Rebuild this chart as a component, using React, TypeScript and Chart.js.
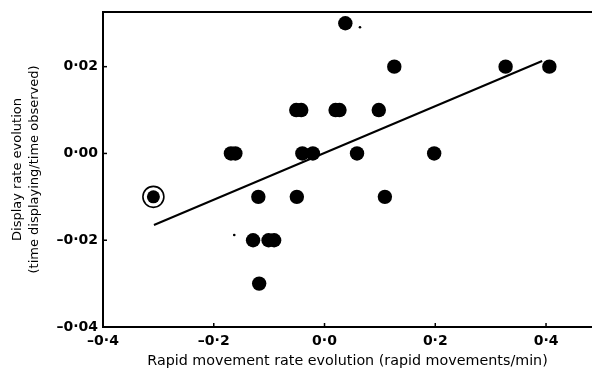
import React, { useEffect, useRef } from "react";
import { Chart, registerables } from "chart.js";

Chart.register(...registerables);

// Observed data points (x: rapid movement rate evolution, y: display rate evolution)
const pointX = [
  0.0376,
  0.126, 0.327, 0.406,
  -0.051, -0.042, 0.02, 0.027, 0.098,
  -0.169, -0.161, -0.04, -0.021, 0.0587, 0.198,
  -0.1195, -0.05, 0.109,
  -0.129, -0.101, -0.091,
  -0.118,
];
const pointY = [
  0.03,
  0.02, 0.02, 0.02,
  0.01, 0.01, 0.01, 0.01, 0.01,
  0.0, 0.0, 0.0, 0.0, 0.0, 0.0,
  -0.01, -0.01, -0.01,
  -0.02, -0.02, -0.02,
  -0.03,
];
// circled (outlier) point
const highlightX = [-0.309];
const highlightY = [-0.01];
// regression line end points
const fitX = [-0.308, 0.393];
const fitY = [-0.0165, 0.0213];
// small specks visible on the figure
const speckX = [0.064, -0.163];
const speckY = [0.0291, -0.0188];

const xTickValues = [-0.4, -0.2, 0, 0.2, 0.4];
const xTickLabels = ["–0·4", "–0·2", "0·0", "0·2", "0·4"];
const yTickValues = [0.02, 0, -0.02, -0.04];
const yTickLabels = ["0·02", "0·00", "–0·02", "–0·04"];

const xTitle = "Rapid movement rate evolution (rapid movements/min)";
const yTitle = ["Display rate evolution", "(time displaying/time observed)"];

const FONT = "'DejaVu Sans', sans-serif";

const toPts = (xs: number[], ys: number[]) => xs.map((x, i) => ({ x, y: ys[i] }));

const innerTicks = {
  id: "innerTicks",
  afterDraw(chart: any) {
    const { ctx, chartArea, scales } = chart;
    ctx.save();
    ctx.strokeStyle = "#000";
    ctx.lineWidth = 1.5;
    scales.x.ticks.forEach((t: any) => {
      const px = scales.x.getPixelForValue(t.value);
      ctx.beginPath();
      ctx.moveTo(px, chartArea.bottom);
      ctx.lineTo(px, chartArea.bottom - 4);
      ctx.stroke();
    });
    scales.y.ticks.forEach((t: any) => {
      const py = scales.y.getPixelForValue(t.value);
      ctx.beginPath();
      ctx.moveTo(chartArea.left, py);
      ctx.lineTo(chartArea.left + 4, py);
      ctx.stroke();
    });
    ctx.restore();
  },
};

export default function App() {
  const ref = useRef<HTMLCanvasElement>(null);

  useEffect(() => {
    const chart = new Chart(ref.current as HTMLCanvasElement, {
      type: "scatter",
      data: {
        datasets: [
          {
            label: "fit",
            type: "line",
            data: toPts(fitX, fitY),
            borderColor: "#000",
            borderWidth: 2,
            pointRadius: 0,
            showLine: true,
            fill: false,
            order: 0,
          } as any,
          {
            label: "outlier",
            data: toPts(highlightX, highlightY),
            pointRadius: 6.5,
            backgroundColor: "#000",
            borderWidth: 0,
            order: 1,
          },
          {
            label: "outlier ring",
            data: toPts(highlightX, highlightY),
            pointRadius: 10.5,
            backgroundColor: "#fff",
            borderColor: "#000",
            borderWidth: 1.6,
            order: 2,
          },
          {
            label: "points",
            data: toPts(pointX, pointY),
            pointRadius: 7.2,
            backgroundColor: "#000",
            borderWidth: 0,
            order: 3,
          },
          {
            label: "specks",
            data: toPts(speckX, speckY),
            pointRadius: 1.3,
            backgroundColor: "#000",
            borderWidth: 0,
            order: 4,
          },
        ],
      },
      options: {
        animation: false,
        responsive: false,
        devicePixelRatio: 1,
        layout: { padding: 0, autoPadding: false },
        plugins: {
          legend: { display: false },
          tooltip: { enabled: false },
        },
        scales: {
          x: {
            type: "linear",
            position: "bottom",
            min: -0.4,
            max: 0.483,
            afterBuildTicks: (s: any) => {
              s.ticks = xTickValues.map((v) => ({ value: v }));
            },
            afterFit: (s: any) => {
              s.height = 44;
              s.paddingLeft = 0;
              s.paddingRight = 0;
            },
            grid: { display: true, drawOnChartArea: false, drawTicks: false },
            border: { display: true, color: "#000", width: 2 },
            ticks: {
              color: "#000",
              padding: 6,
              maxRotation: 0,
              font: { family: FONT, size: 14, weight: "bold" },
              callback: (_v: any, i: number) => xTickLabels[i],
            },
            title: {
              display: true,
              text: xTitle,
              color: "#000",
              font: { family: FONT, size: 14.3, lineHeight: 1.15 },
              padding: { top: 0, bottom: 1 },
            },
          },
          x2: {
            type: "linear",
            position: "top",
            min: -0.4,
            max: 0.483,
            afterFit: (s: any) => {
              s.height = 12;
              s.paddingLeft = 0;
              s.paddingRight = 0;
            },
            grid: { display: true, drawOnChartArea: false, drawTicks: false },
            border: { display: true, color: "#000", width: 2 },
            ticks: { display: false },
          },
          y: {
            type: "linear",
            position: "left",
            min: -0.04,
            max: 0.0326,
            afterBuildTicks: (s: any) => {
              s.ticks = yTickValues.map((v) => ({ value: v }));
            },
            afterFit: (s: any) => {
              s.width = 103;
              s.paddingTop = 0;
              s.paddingBottom = 0;
            },
            grid: { display: true, drawOnChartArea: false, drawTicks: false },
            border: { display: true, color: "#000", width: 2 },
            ticks: {
              color: "#000",
              padding: 5,
              font: { family: FONT, size: 14, weight: "bold" },
              callback: (_v: any, i: number) => yTickLabels[i],
            },
            title: {
              display: true,
              text: yTitle,
              color: "#000",
              font: { family: FONT, size: 13, lineHeight: 1.3 },
              padding: { top: 9, bottom: 0 },
            },
          },
        },
      },
      plugins: [innerTicks],
    } as any);
    return () => chart.destroy();
  }, []);

  return (
    <div
      style={{
        position: "fixed",
        left: 0,
        top: 0,
        width: 592,
        height: 371,
        background: "#fff",
      }}
    >
      <canvas
        ref={ref}
        width={592}
        height={371}
        style={{ display: "block", width: 592, height: 371 }}
      />
    </div>
  );
}
